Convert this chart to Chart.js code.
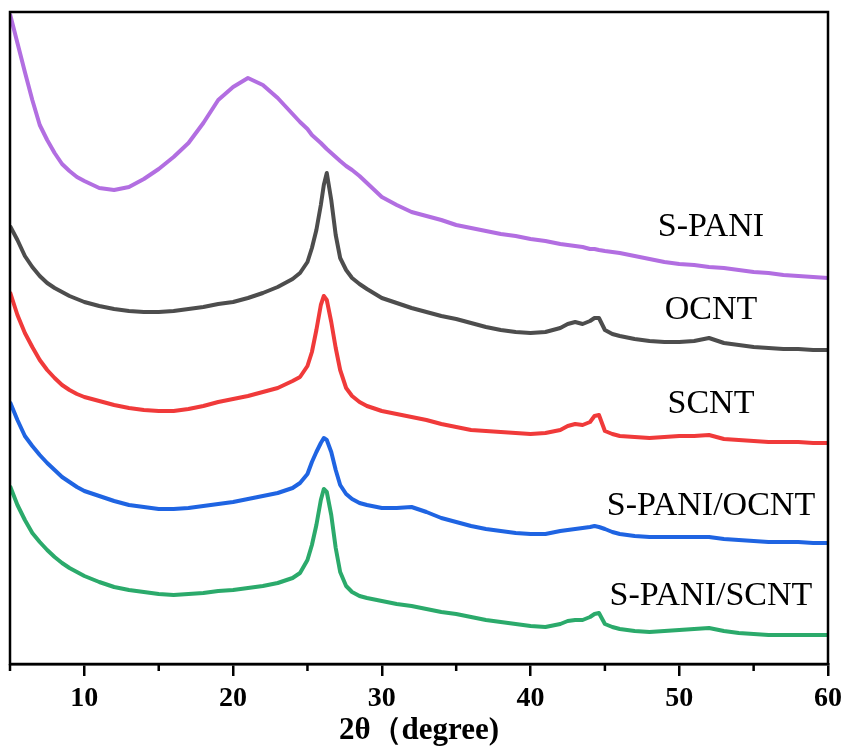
<!DOCTYPE html>
<html>
<head>
<meta charset="utf-8">
<script src="https://cdn.jsdelivr.net/npm/chart.js@4.4.0/dist/chart.umd.min.js"></script>
<style>
  body { margin: 0; background: #fff; }
  canvas { display: block; }
</style>
</head>
<body>
<canvas id="c" width="844" height="750"></canvas>
<script>
// 2theta positions (degree)
const twoTheta = [5,5.5,6,6.5,7,7.5,8,8.5,9,9.5,
  10,11,12,13,14,15,16,17,18,19,
  20,21,22,23,24,24.5,25,25.3,25.6,25.9,
  26.1,26.3,26.6,26.9,27.2,27.6,28,28.5,29,30,
  31,32,33,34,35,36,37,38,39,40,
  41,42,42.5,43,43.5,44,44.3,44.6,45,45.5,
  46,47,48,49,50,51,52,53,54,55,
  56,57,58,59,60]

// intensities (a.u., curves offset as in the figure)
const sPani = [650,621,592,564,539,524,511,500,493,487,
  483,476,474,477,485,495,507,521,541,564,
  577,586,579,566,550,542,535,529,525,521,
  518,515,511,507,503,498,494,488,481,467,
  459,452,448,444,439,436,433,430,428,425,
  423,420,419,418,417,415,415,414,413,412,
  411,408,405,402,400,399,397,396,394,392,
  391,389,388,387,386]

const ocnt = [438,424,408,397,388,381,376,372,368,365,
  362,358,355,353,352,352,353,355,357,360,
  362,366,371,377,385,391,402,416,434,459,
  479,491,464,429,406,394,386,380,375,366,
  361,356,352,348,345,341,337,334,332,331,
  332,336,340,342,340,343,346,346,334,330,
  328,325,323,322,322,323,326,321,319,317,
  316,315,315,314,314]

const scnt = [372,349,331,317,304,294,286,279,274,270,
  267,263,259,256,254,253,253,255,258,262,
  265,268,272,276,283,287,298,312,334,359,
  368,364,342,316,294,276,268,262,258,253,
  250,247,244,240,237,234,233,232,231,230,
  231,234,238,240,239,242,248,249,233,230,
  228,227,226,227,228,228,229,225,224,223,
  222,222,222,221,221]

const sPaniOcnt = [262,244,228,218,209,201,194,187,182,177,
  173,168,163,159,157,155,155,156,158,160,
  162,165,168,171,176,181,190,202,212,221,
  226,224,212,194,179,170,165,161,159,156,
  156,157,152,146,142,138,135,133,131,130,
  130,133,134,135,136,137,138,137,135,132,
  130,128,127,127,127,127,127,125,124,123,
  122,122,122,121,121]

const sPaniScnt = [178,159,144,131,122,114,107,101,96,92,
  88,82,77,74,72,70,69,70,71,73,
  74,76,78,81,86,91,104,119,139,164,
  175,172,149,116,92,78,72,68,66,63,
  60,58,55,52,50,47,44,42,40,38,
  37,40,43,44,44,47,50,51,40,37,
  35,33,32,33,34,35,36,33,31,30,
  29,29,29,29,29]

const names = ["S-PANI","OCNT","SCNT","S-PANI/OCNT","S-PANI/SCNT"]
const series = [sPani, ocnt, scnt, sPaniOcnt, sPaniScnt]
const colors = ["#B26EE1","#4D4D4D","#F03A3A","#1F64E2","#2BAA6B"]

// where the sample names sit (data units)
const nameX = 52.13
const nameY = [428,345,251,149,59]

const serif = '"Liberation Serif","Times New Roman",serif'

function pts(vals){
  return vals.map((v,i) => ({x: twoTheta[i], y: v}))
}

const frame = {
  id: "frame",
  afterDraw(chart){
    const ctx = chart.ctx
    const a = chart.chartArea
    const sx = chart.scales.x
    ctx.save()
    ctx.strokeStyle = "#000"
    ctx.lineWidth = 2.5
    ctx.strokeRect(a.left, a.top, a.right - a.left, a.bottom - a.top)
    // minor ticks
    for (let v = 5; v < 60; v += 10){
      const px = sx.getPixelForValue(v)
      ctx.beginPath()
      ctx.moveTo(px, a.bottom)
      ctx.lineTo(px, a.bottom + 7)
      ctx.stroke()
    }
    // sample names
    ctx.fillStyle = "#000"
    ctx.font = "34px " + serif
    ctx.textAlign = "center"
    ctx.textBaseline = "alphabetic"
    const sy = chart.scales.y
    for (let i = 0; i < names.length; i++){
      ctx.fillText(names[i], sx.getPixelForValue(nameX), sy.getPixelForValue(nameY[i]))
    }
    ctx.restore()
  }
}

const chart = new Chart(document.getElementById("c").getContext("2d"), {
  type: "line",
  data: {
    datasets: series.map((s,i) => ({
      label: names[i],
      data: pts(s),
      borderColor: colors[i],
      backgroundColor: colors[i],
      borderWidth: 4,
      pointRadius: 0,
      tension: 0,
      borderJoinStyle: "round"
    }))
  },
  options: {
    responsive: false,
    animation: false,
    layout: { padding: { left: 10, right: 16, top: 12, bottom: 0 } },
    plugins: { legend: { display: false }, tooltip: { enabled: false } },
    scales: {
      x: {
        type: "linear",
        min: 5, max: 60,
        afterFit(s){ s.height = 86; s.paddingLeft = 0; s.paddingRight = 0 },
        ticks: {
          stepSize: 5, autoSkip: false, maxRotation: 0, padding: 6,
          color: "#000",
          font: { family: serif, size: 28, weight: "bold" },
          callback: v => v % 10 === 0 ? v : ""
        },
        grid: {
          drawOnChartArea: false, drawTicks: true, tickLength: 12, lineWidth: 2.5,
          color: c => (c.tick && c.tick.value % 10 === 0) ? "#000" : "rgba(0,0,0,0)"
        },
        border: { display: true, color: "#000", width: 2.5 },
        title: {
          display: true, text: "2θ（degree)", color: "#000", padding: 0,
          font: { family: serif, size: 31, weight: "bold" }
        }
      },
      y: { display: false, min: 0, max: 652 }
    }
  },
  plugins: [frame]
})
</script>
</body>
</html>
